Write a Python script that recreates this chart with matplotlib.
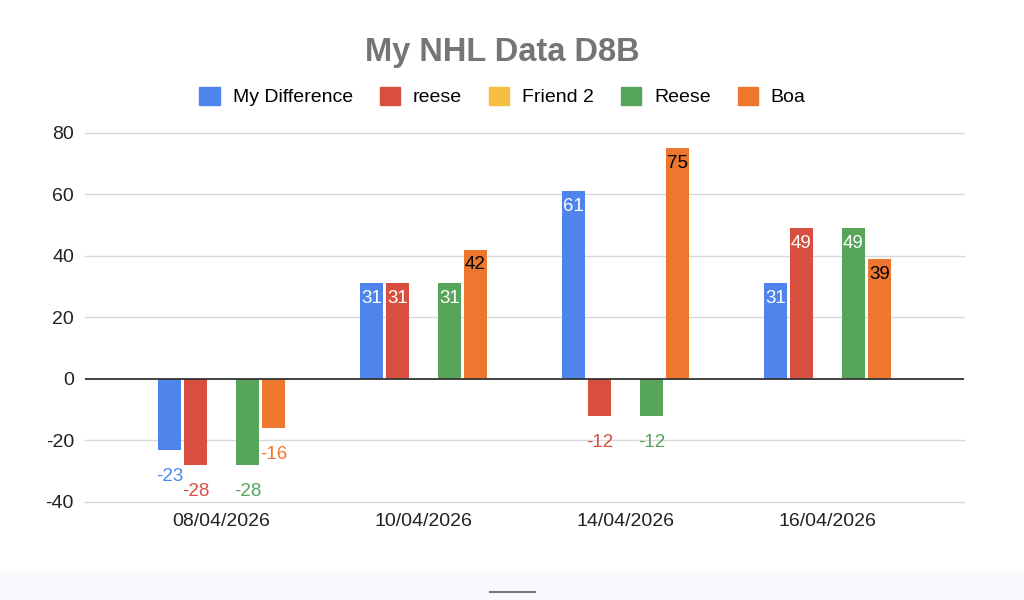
import numpy as np
import matplotlib.pyplot as plt
from matplotlib.patches import Rectangle
from matplotlib.lines import Line2D

plt.rcParams['font.family'] = ['Liberation Sans', 'DejaVu Sans']
plt.rcParams['axes.unicode_minus'] = False

dates = ['08/04/2026', '10/04/2026', '14/04/2026', '16/04/2026']
series = ['My Difference', 'reese', 'Friend 2', 'Reese', 'Boa']
colors = ['#5084ED', '#D94F3F', '#F3BE41', '#57A55A', '#EE7730']

my_difference = [-23, 31, 61, 31]
reese_lower = [-28, 31, -12, 49]
friend_2 = [np.nan, np.nan, np.nan, np.nan]
reese_upper = [-28, 31, -12, 49]
boa = [-16, 42, 75, 39]

values = [my_difference, reese_lower, friend_2, reese_upper, boa]
# inside label colour for positive bars
inside_colors = ['white', 'white', 'white', 'white', 'black']

fig = plt.figure(figsize=(10.24, 6), dpi=100)
ax = fig.add_axes([85 / 1024, 1 - 502 / 600, (964 - 85) / 1024, (502 - 132.7) / 600])

x = np.arange(len(dates))
step = 0.1287
width = 0.114

for i, (name, vals, col) in enumerate(zip(series, values, colors)):
    pos = x + (i - 2) * step
    bars = ax.bar(pos, vals, width, color=col, label=name, zorder=3)
    for b, v in zip(bars, vals):
        if np.isnan(v):
            continue
        cx = b.get_x() + b.get_width() / 2
        if v >= 0:
            ax.annotate(f'{v:g}', (cx, v), xytext=(0, -11), textcoords='offset points',
                        ha='center', va='center', fontsize=13.5, color=inside_colors[i], zorder=4)
        else:
            ax.annotate(f'{v:g}', (cx, v), xytext=(0, -19), textcoords='offset points',
                        ha='center', va='center', fontsize=13.5, color=col, zorder=4)

ax.set_ylim(-40, 80)
ax.set_xlim(-0.676, 3.676)
ax.set_yticks([-40, -20, 0, 20, 40, 60, 80])
ax.set_xticks(x)
ax.set_xticklabels(dates)
for t in [-40, -20, 20, 40, 60, 80]:
    ax.axhline(t, color='#d9d9d9', linewidth=1, zorder=0, clip_on=False)
ax.axhline(0, color='#333333', linewidth=1.3, zorder=3.5)
for s in ax.spines.values():
    s.set_visible(False)
ax.tick_params(axis='both', length=0, labelsize=14, colors='#222222')
ax.tick_params(axis='x', pad=8)
ax.tick_params(axis='y', pad=8)

fig.text(502.5 / 1024, 1 - 53 / 600, 'My NHL Data D8B', ha='center', va='center',
         fontsize=23.5, fontweight='bold', color='#757575')

handles = [Rectangle((0, 0), 1, 1, color=c) for c in colors]
fig.legend(handles, series, loc='center', bbox_to_anchor=(502.5 / 1024, 1 - 96.5 / 600), ncol=5,
           frameon=False, fontsize=14, handlelength=1.03, handleheight=1.03,
           handletextpad=0.67, columnspacing=1.39, borderpad=0, borderaxespad=0)

# light strip at the bottom of the screenshot
fig.patches.append(Rectangle((0, 0), 1, 28 / 600, transform=fig.transFigure,
                             color='#f8f9fd', zorder=0))
fig.lines.append(Line2D([490 / 1024, 535 / 1024], [8 / 600, 8 / 600],
                        transform=fig.transFigure, color='#777777', linewidth=1.5))

fig.savefig('out.png', dpi=100)
